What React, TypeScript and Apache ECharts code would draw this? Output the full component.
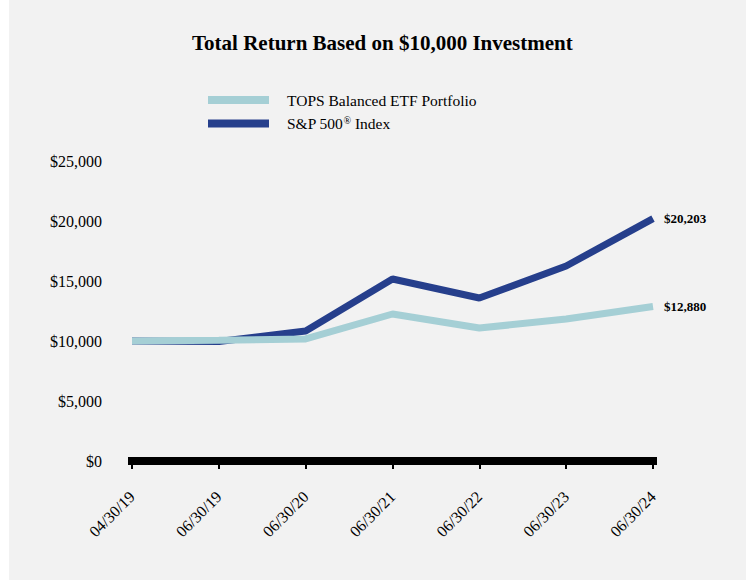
import React, { useEffect, useRef } from "react";
import * as echarts from "echarts";

const categories = ["04/30/19", "06/30/19", "06/30/20", "06/30/21", "06/30/22", "06/30/23", "06/30/24"];
const topsValues = [10000, 10060, 10170, 12250, 11080, 11830, 12880];
const spValues = [10000, 9960, 10830, 15170, 13580, 16250, 20203];
const yTicks = [0, 5000, 10000, 15000, 20000, 25000];
const seriesNames = ["TOPS Balanced ETF Portfolio", "S&P 500® Index"];

const SERIF = "'Liberation Serif', 'Times New Roman', serif";
const fmt = (v: number) => "$" + v.toLocaleString("en-US");

export default function App() {
  const ref = useRef<HTMLDivElement>(null);
  useEffect(() => {
    if (!ref.current) return;
    const chart = echarts.init(ref.current, null, { renderer: "svg" });
    const endLabel = {
      show: true,
      distance: 11,
      formatter: (p: any) => fmt(p.value),
      fontFamily: SERIF,
      fontWeight: "bold",
      fontSize: 13,
      color: "#000",
    };
    chart.setOption({
      animation: false,
      backgroundColor: "#ffffff",
      graphic: [
        { type: "rect", z: -10, shape: { x: 9, y: 0, width: 737, height: 580 }, style: { fill: "#f2f2f2" } },
      ],
      title: {
        text: "Total Return Based on $10,000 Investment",
        left: 187,
        top: 27,
        padding: 5,
        textStyle: { fontFamily: SERIF, fontWeight: "bold", fontSize: 21, color: "#000" },
      },
      legend: {
        orient: "vertical",
        left: 208,
        top: 92,
        padding: 0,
        icon: "rect",
        itemWidth: 61,
        itemHeight: 8,
        itemGap: 7,
        data: seriesNames,
        formatter: (n: string) => (n === seriesNames[1] ? "S&P 500{sup|®} Index" : n),
        textStyle: {
          fontFamily: SERIF,
          fontSize: 15.5,
          color: "#000",
          padding: [0, 0, 0, 13],
          rich: {
            sup: { fontFamily: SERIF, fontSize: 10, verticalAlign: "top", padding: [0, 0, 7, 0], color: "#000" },
          },
        },
      },
      grid: { left: 132, right: 93, top: 161, bottom: 121, containLabel: false },
      xAxis: {
        type: "category",
        data: categories,
        boundaryGap: false,
        axisLine: { show: true, lineStyle: { color: "#000", width: 8, cap: "square" } },
        axisTick: { show: true, alignWithLabel: true, length: 8, lineStyle: { color: "#000", width: 2 } },
        axisLabel: { rotate: 45, margin: 33, fontFamily: SERIF, fontSize: 16, color: "#000", interval: 0 },
        splitLine: { show: false },
      },
      yAxis: {
        type: "value",
        min: yTicks[0],
        max: yTicks[yTicks.length - 1],
        interval: 5000,
        axisLine: { show: false },
        axisTick: { show: false },
        splitLine: { show: false },
        axisLabel: { margin: 30, fontFamily: SERIF, fontSize: 16, color: "#000", formatter: (v: number) => fmt(v) },
      },
      series: [
        {
          name: seriesNames[1],
          type: "line",
          data: spValues,
          symbol: "none",
          z: 2,
          color: "#263f8c",
          lineStyle: { color: "#263f8c", width: 7 },
          itemStyle: { color: "#263f8c" },
          endLabel,
        },
        {
          name: seriesNames[0],
          type: "line",
          data: topsValues,
          symbol: "none",
          z: 3,
          color: "#a5cfd5",
          lineStyle: { color: "#a5cfd5", width: 7 },
          itemStyle: { color: "#a5cfd5" },
          endLabel,
        },
      ],
    });
    return () => chart.dispose();
  }, []);
  return <div ref={ref} style={{ position: "fixed", left: 0, top: 0, width: 746, height: 582 }} />;
}
